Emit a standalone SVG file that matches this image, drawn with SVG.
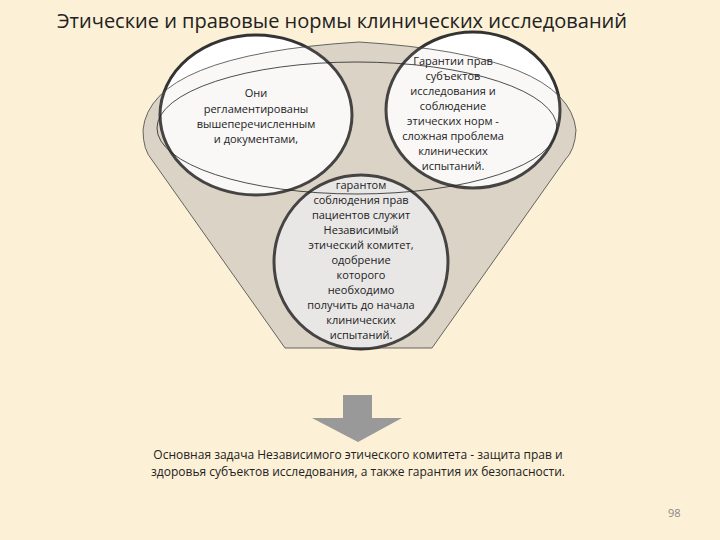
<svg xmlns="http://www.w3.org/2000/svg" width="720" height="540" viewBox="0 0 720 540">
<style>
text{font-family:"Open Sans","DejaVu Sans",sans-serif;fill:#222}
.t{font-size:11px;text-anchor:middle}
.c{stroke:#333;stroke-width:3}
</style>
<rect width="720" height="540" fill="#fcf0d6"/>
<text x="57" y="28" font-size="20">Этические и правовые нормы клинических исследований</text>
<path d="M143,130 Q150,55 359,42 Q568,55 576,130 Q575,150 565,160 L432,348 L285,348 L152,160 Q143,150 143,130 Z" fill="#ddd6c8"/>
<g id="bottom"><ellipse class="c" cx="361" cy="262" rx="87" ry="87" fill="#ececec"/></g>
<g id="left"><ellipse class="c" cx="256" cy="115" rx="96" ry="80" fill="#fff"/></g>
<g id="right"><ellipse class="c" cx="473" cy="110" rx="87" ry="78" fill="#fff"/></g>
<g id="funnel">
<path d="M143,130 Q150,55 359,42 Q568,55 576,130 Q575,150 565,160 L432,348 L285,348 L152,160 Q143,150 143,130 Z" fill="#cfc8ba" fill-opacity="0.12" stroke="#444" stroke-width="0.8"/>
<ellipse cx="357" cy="128" rx="200" ry="66" fill="none" stroke="#222" stroke-width="0.8"/>
</g>
<g id="labels">
<text class="t"><tspan x="256" y="97">Они</tspan><tspan x="256" y="113">регламентированы</tspan><tspan x="256" y="128">вышеперечисленным</tspan><tspan x="256" y="143">и документами,</tspan></text>
<text class="t"><tspan x="453" y="65">Гарантии прав</tspan><tspan x="453" y="80">субъектов</tspan><tspan x="453" y="95">исследования и</tspan><tspan x="453" y="110">соблюдение</tspan><tspan x="453" y="125">этических норм -</tspan><tspan x="453" y="140">сложная проблема</tspan><tspan x="453" y="155">клинических</tspan><tspan x="453" y="170">испытаний.</tspan></text>
<text class="t"><tspan x="361" y="189">гарантом</tspan><tspan x="361" y="204">соблюдения прав</tspan><tspan x="361" y="219">пациентов служит</tspan><tspan x="361" y="234">Независимый</tspan><tspan x="361" y="249">этический комитет,</tspan><tspan x="361" y="264">одобрение</tspan><tspan x="361" y="279">которого</tspan><tspan x="361" y="294">необходимо</tspan><tspan x="361" y="309">получить до начала</tspan><tspan x="361" y="324">клинических</tspan><tspan x="361" y="339">испытаний.</tspan></text>
</g>
<g id="connectors"><path d="M343,395 H372 V418 H402 L358,442 L312,418 H343 Z" fill="#999"/></g>
<g id="goal"><text font-size="12" text-anchor="middle"><tspan x="358" y="459">Основная задача Независимого этического комитета - защита прав и</tspan><tspan x="358" y="476">здоровья субъектов исследования, а также гарантия их безопасности.</tspan></text></g>
<text x="668" y="517" font-size="11" style="fill:#888">98</text>
</svg>
